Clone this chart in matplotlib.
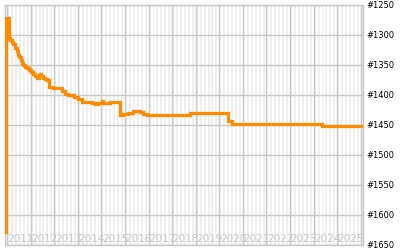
import numpy as np
import matplotlib
matplotlib.use("Agg")
import matplotlib.pyplot as plt

# rank history (decimal year, rank)
years = [2010.91, 2010.95, 2010.97, 2011.08, 2011.12, 2011.20, 2011.26, 2011.33,
         2011.40, 2011.47, 2011.52, 2011.58, 2011.64, 2011.69, 2011.76, 2011.83,
         2011.92, 2012.00, 2012.11, 2012.18, 2012.25, 2012.36, 2012.39, 2012.44,
         2012.53, 2012.60, 2012.68, 2012.79, 2012.96, 2013.24, 2013.32, 2013.46,
         2013.60, 2013.74, 2013.84, 2014.02, 2014.16, 2014.44, 2014.59, 2014.73,
         2014.87, 2015.01, 2015.08, 2015.15, 2015.36, 2015.79, 2015.93, 2016.14,
         2016.35, 2016.64, 2016.78, 2016.92, 2018.76, 2020.38, 2020.53, 2024.35,
         2026.10]
ranks = [1628, 1295, 1271, 1305, 1308, 1311, 1315, 1322,
         1327, 1333, 1337, 1341, 1346, 1350, 1353, 1355,
         1358, 1361, 1365, 1368, 1371, 1367, 1365, 1369,
         1371, 1373, 1375, 1386, 1388, 1388, 1393, 1398,
         1400, 1400, 1404, 1406, 1411, 1412, 1413, 1415,
         1413, 1410, 1413, 1413, 1412, 1433, 1431, 1430,
         1427, 1428, 1431, 1433, 1430, 1444, 1448, 1452,
         1452]

year_labels = list(range(2011, 2027))
rank_ticks = [1250, 1300, 1350, 1400, 1450, 1500, 1550, 1600, 1650]

fig = plt.figure(figsize=(4, 2.5), dpi=100)
ax = fig.add_axes([0.0125, 0.02, 0.896, 0.96])

x0, x1 = 2010.91, 2026.11
ax.set_xlim(x0, x1)
ax.set_ylim(1650, 1250)

# alternating monthly bands
for y in range(2010, 2027):
    for m in range(0, 12, 2):
        ax.axvspan(y + m / 12, y + (m + 1) / 12, color="#efefef", lw=0, zorder=0)

for y in year_labels:
    ax.axvline(y, color="#c8c8c8", lw=1, zorder=1)
for r in rank_ticks:
    ax.axhline(r, color="#c8c8c8", lw=1, zorder=1)

for y in year_labels:
    ax.text(y + 0.02, 1648, str(y), color="#c8c8c8", fontsize=7.5,
            ha="left", va="bottom", zorder=2, clip_on=True)

ax.plot(years, ranks, color="#ff8c00", lw=2.3, drawstyle="steps-post",
        solid_joinstyle="miter", zorder=3)

ax.set_xticks([])
ax.set_yticks(rank_ticks)
ax.set_yticklabels([f"#{r}" for r in rank_ticks], fontsize=6)
ax.yaxis.tick_right()
ax.tick_params(axis="y", length=0, pad=2)
for s in ax.spines.values():
    s.set_color("#c8c8c8")
    s.set_linewidth(1)

fig.savefig("out.png", dpi=100)
